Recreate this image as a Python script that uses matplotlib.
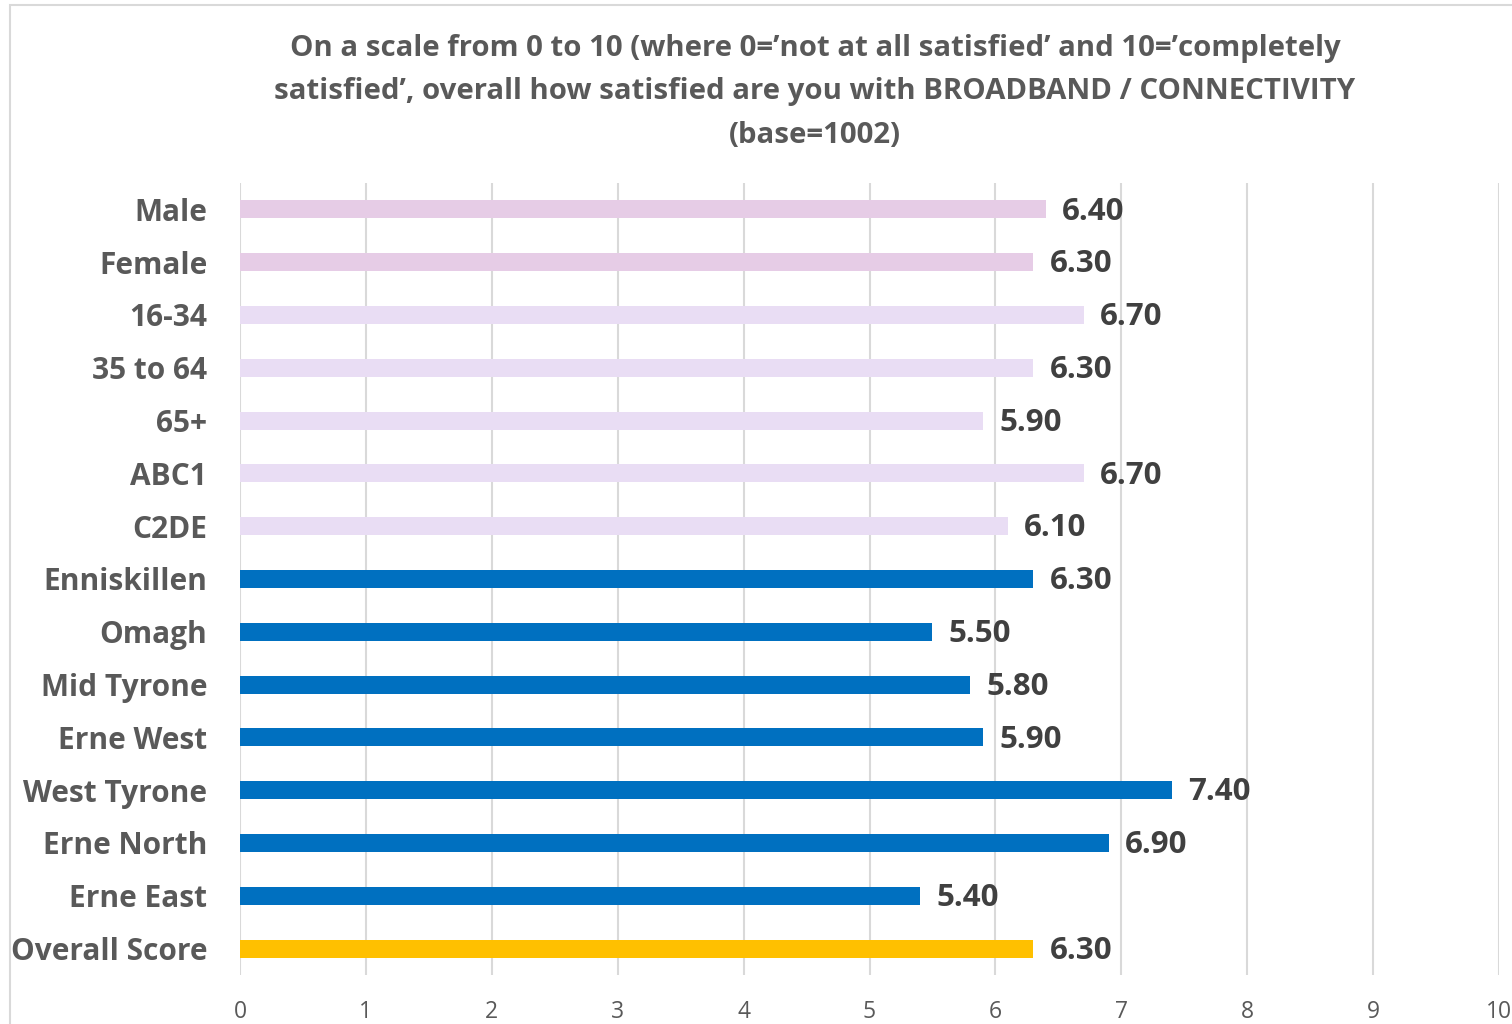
import numpy as np
import matplotlib.pyplot as plt
from matplotlib.patches import Rectangle

categories = ["Male", "Female", "16-34", "35 to 64", "65+", "ABC1", "C2DE",
              "Enniskillen", "Omagh", "Mid Tyrone", "Erne West", "West Tyrone",
              "Erne North", "Erne East", "Overall Score"]
scores = [6.40, 6.30, 6.70, 6.30, 5.90, 6.70, 6.10,
          6.30, 5.50, 5.80, 5.90, 7.40, 6.90, 5.40, 6.30]
groups = ["gender"] * 2 + ["age"] * 5 + ["area"] * 7 + ["overall"]

group_colors = {
    "gender": "#E6CCE6",
    "age": "#E9DDF4",
    "area": "#0070C0",
    "overall": "#FFC000",
}

title = ("On a scale from 0 to 10 (where 0=\u2019not at all satisfied\u2019 and 10=\u2019completely\n"
         "satisfied\u2019, overall how satisfied are you with BROADBAND / CONNECTIVITY\n"
         "(base=1002)")

plt.rcParams['font.family'] = ['Open Sans', 'DejaVu Sans']

fig = plt.figure(figsize=(15.12, 10.24), dpi=100)
ax = fig.add_axes([240 / 1512, 1 - 975 / 1024, 1259 / 1512, 792 / 1024])

# outer chart frame
fig.patches.append(Rectangle((10 / 1512, -0.01), 1.1, 1 - 5 / 1024 + 0.01,
                             transform=fig.transFigure, fill=False,
                             edgecolor="#D9D9D9", linewidth=1.5))

y = np.arange(len(categories))
colors = [group_colors[g] for g in groups]
ax.barh(y, scores, height=0.34, color=colors, zorder=3)

for yi, v in zip(y, scores):
    ax.text(v + 0.13, yi + 0.04, f"{v:.2f}", va="center", ha="left",
            fontsize=22.5, fontweight="bold", color="#404040")

ax.set_xlim(0, 10)
ax.set_ylim(len(categories) - 0.5, -0.5)
ax.set_xticks(range(0, 11))
ax.set_yticks(y)
ax.set_yticklabels(categories, fontsize=21.5, fontweight="bold", color="#595959")
ax.tick_params(axis="x", labelsize=16.5, labelcolor="#595959", length=0, pad=18)
ax.tick_params(axis="y", length=0, pad=23.5)
ax.grid(axis="x", color="#D9D9D9", linewidth=1.5, zorder=0)
for s in ax.spines.values():
    s.set_visible(False)

fig.text(815 / 1512, 1 - 92 / 1024, title, ha="center", va="center",
         fontsize=21.2, fontweight="bold", color="#595959", linespacing=1.68)

fig.savefig("out.png", dpi=100)
